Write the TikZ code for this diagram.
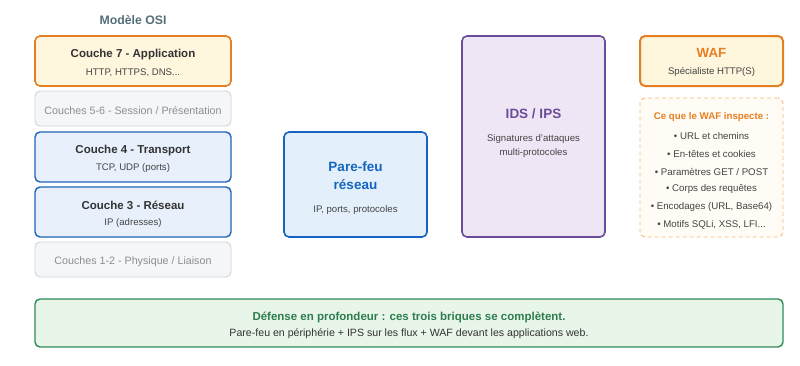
\documentclass[tikz,border=0pt]{standalone}
\usepackage{fontspec}
\setmainfont{Liberation Sans}
\usepackage{xcolor}
\usetikzlibrary{positioning}

\definecolor{osititle}{HTML}{546E7A}
\definecolor{hotborder}{HTML}{E67E22}
\definecolor{hotfill}{HTML}{FEF6DD}
\definecolor{netborder}{HTML}{1F63B8}
\definecolor{netfill}{HTML}{E8F0FC}
\definecolor{fwborder}{HTML}{1565C0}
\definecolor{fwfill}{HTML}{E3F0FB}
\definecolor{idsborder}{HTML}{6B4C9A}
\definecolor{idsfill}{HTML}{EEE6F5}
\definecolor{dimborder}{HTML}{CDD3D9}
\definecolor{dimfill}{HTML}{F4F6F8}
\definecolor{dimtext}{HTML}{8A8F94}
\definecolor{wafdash}{HTML}{F5B87A}
\definecolor{waffill}{HTML}{FFFCF5}
\definecolor{okborder}{HTML}{2E8B57}
\definecolor{okfill}{HTML}{E8F5E9}
\definecolor{oktext}{HTML}{2E7D4F}
\definecolor{bodytext}{HTML}{444444}
\definecolor{headtext}{HTML}{333333}

\tikzset{
  box/.style={rounded corners=5pt, inner sep=0pt},
  hotbox/.style={box, draw=hotborder, fill=hotfill, line width=1.6pt},
  netbox/.style={box, draw=netborder, fill=netfill, line width=1.4pt},
  dimbox/.style={box, draw=dimborder, fill=dimfill, line width=0.9pt},
  txt/.style={yshift=-1.3pt},
  head/.style={txt, font=\fontsize{11.5}{13}\selectfont\bfseries, text=headtext},
  sub/.style={txt, font=\fontsize{9.6}{11}\selectfont, text=bodytext},
  dim/.style={txt, font=\fontsize{10.7}{12}\selectfont, text=dimtext},
  item/.style={txt, font=\fontsize{9.7}{11}\selectfont, text=bodytext},
}

\begin{document}
\begin{tikzpicture}[x=1pt, y=-1pt]
\useasboundingbox (0,0) rectangle (800,365);
% OSI column
\node[txt, font=\fontsize{12.3}{14}\selectfont\bfseries, text=osititle] (osi) at (133,19) {Modèle OSI};
\node[hotbox, minimum width=196pt, minimum height=50pt] (L7) at (133,61) {};
\node[head] (L7t) at (133,53) {Couche 7 - Application};
\node[sub] (L7s) at (133,71) {HTTP, HTTPS, DNS...};
\node[dimbox, minimum width=196pt, minimum height=35pt] (L56) at (133,108.5) {};
\node[dim] (L56t) at (133,109) {Couches 5-6 - Session / Présentation};
\foreach \n/\y/\t/\s in {L4/157/Couche 4 - Transport/{TCP, UDP (ports)},
                         L3/212/Couche 3 - Réseau/IP (adresses)} {
  \node[netbox, minimum width=196pt, minimum height=50pt] (\n) at (133,\y) {};
  \node[head] (\n t) at (133,\y-8) {\t};
  \node[sub] (\n s) at (133,\y+9.5) {\s};
}
\node[dimbox, minimum width=196pt, minimum height=35pt] (L12) at (133,259.5) {};
\node[dim] (L12t) at (133,260) {Couches 1-2 - Physique / Liaison};
% Network firewall
\node[box, draw=fwborder, fill=fwfill, line width=1.6pt, minimum width=143pt, minimum height=105pt] (fw) at (355.5,184.5) {};
\node[txt, font=\fontsize{13.5}{18}\selectfont\bfseries, text=fwborder, align=center] (fwt) at (355.5,174) {Pare-feu\\réseau};
\node[sub] (fws) at (355.5,209) {IP, ports, protocoles};
% IDS / IPS
\node[box, draw=idsborder, fill=idsfill, line width=1.6pt, minimum width=143pt, minimum height=201pt] (ids) at (533.5,136.5) {};
\node[txt, font=\fontsize{13.5}{15}\selectfont\bfseries, text=idsborder] (idst) at (533.5,112) {IDS / IPS};
\node[sub, align=center, font=\fontsize{9.6}{14}\selectfont] (idss) at (533.5,145) {Signatures d'attaques\\multi-protocoles};
% WAF
\node[box, draw=hotborder, fill=hotfill, line width=2pt, minimum width=143pt, minimum height=50pt] (waf) at (711.5,61) {};
\node[txt, font=\fontsize{13.3}{15}\selectfont\bfseries, text=hotborder] (waft) at (711.5,52) {WAF};
\node[sub] (wafs) at (711.5,71) {Spécialiste HTTP(S)};
\node[box, draw=wafdash, fill=waffill, line width=0.9pt, dash pattern=on 4pt off 3pt, minimum width=143pt, minimum height=139pt] (inspect) at (711.5,167.5) {};
\node[txt, font=\fontsize{9.7}{11}\selectfont\bfseries, text=hotborder] (inspectt) at (711.5,116) {Ce que le WAF inspecte :};
\foreach \k/\y/\t in {1/135/URL et chemins, 2/153/En-têtes et cookies, 3/171/{Paramètres GET / POST},
                      4/188/Corps des requêtes, 5/206/{Encodages (URL, Base64)}, 6/224/{Motifs SQLi, XSS, LFI...}} {
  \node[item] (insp\k) at (711.5,\y) {• \t};
}
% Summary
\node[box, draw=okborder, fill=okfill, line width=1.4pt, minimum width=748pt, minimum height=48pt] (sum) at (409,323) {};
\node[txt, font=\fontsize{11.5}{13}\selectfont\bfseries, text=oktext] (sumt) at (409,316) {Défense en profondeur : ces trois briques se complètent.};
\node[txt, font=\fontsize{10.6}{12}\selectfont, text=headtext] (sums) at (409,332) {Pare-feu en périphérie + IPS sur les flux + WAF devant les applications web.};
\end{tikzpicture}
\end{document}
